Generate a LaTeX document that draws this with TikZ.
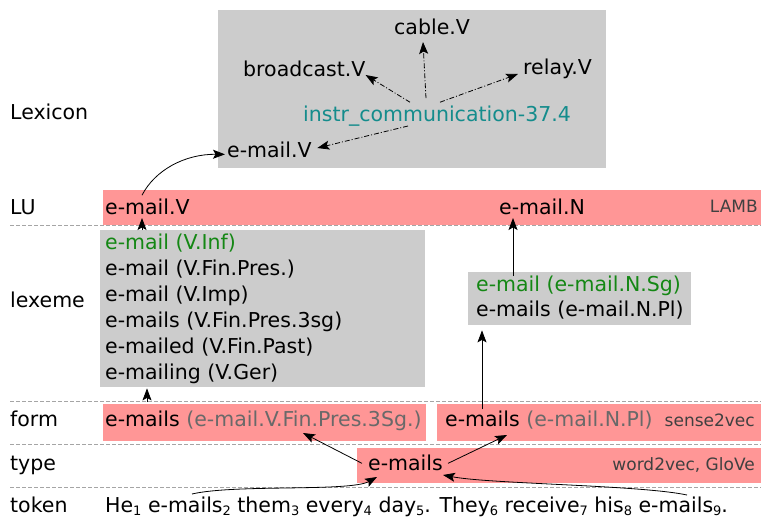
\documentclass[tikz,border=0pt]{standalone}
\usepackage{fontspec}
\setmainfont{DejaVu Sans}
\usetikzlibrary{arrows.meta}
\definecolor{pinkband}{RGB}{255,150,150}
\definecolor{graybox}{RGB}{204,204,204}
\definecolor{tealtxt}{RGB}{20,140,140}
\definecolor{greentxt}{RGB}{20,135,20}
\definecolor{graytxt}{RGB}{105,105,105}
\definecolor{smalltxt}{RGB}{64,64,64}
\definecolor{sepline}{RGB}{165,165,165}
\newcommand\tsub[1]{\raisebox{-3pt}{\fontsize{13}{13}\selectfont #1}}
\begin{document}
\begin{tikzpicture}[x=1pt,y=-1pt,
  txt/.style={inner sep=0pt, anchor=base west, font=\fontsize{20.5}{26}\selectfont},
  smalltag/.style={inner sep=0pt, anchor=base east, text=smalltxt, font=\fontsize{17}{20}\selectfont},
  box/.style={inner sep=0pt, anchor=north west, draw=none},
  arr/.style={-{Stealth[length=12pt,width=9pt,inset=2.5pt]}, line width=0.8pt},
  ddarr/.style={arr, dash pattern=on 5pt off 2pt on 1pt off 2pt},
  sepl/.style={sepline, line width=0.8pt, dash pattern=on 4pt off 2pt}]
\useasboundingbox (0,0) rectangle (761,518);
% boxes and bands
\node[box, fill=graybox, minimum width=388pt, minimum height=158pt] (lexbox) at (218,10) {};
\node[box, fill=pinkband, minimum width=658pt, minimum height=35pt] (luband) at (103,190) {};
\node[box, fill=graybox, minimum width=325pt, minimum height=157pt] (lboxL) at (100,230) {};
\node[box, fill=graybox, minimum width=223pt, minimum height=53pt] (lboxR) at (468,272) {};
\node[box, fill=pinkband, minimum width=323pt, minimum height=37pt] (fbandL) at (103,404) {};
\node[box, fill=pinkband, minimum width=324pt, minimum height=37pt] (fbandR) at (437,404) {};
\node[box, fill=pinkband, minimum width=404pt, minimum height=35pt] (tband) at (357,448) {};
% separators
\draw[sepl] (10,225) -- (761,225);
\draw[sepl] (10,401) -- (761,401);
\draw[sepl] (10,444) -- (761,444);
\draw[sepl] (10,487) -- (761,487);
% level labels
\node[txt] (lLex) at (10,120) {Lexicon};
\node[txt] (lLU) at (10,215) {LU};
\node[txt] (lLexeme) at (10,308) {lexeme};
\node[txt] (lForm) at (10,427) {form};
\node[txt] (lType) at (10,471) {type};
\node[txt] (lTok) at (10,513) {token};
% lexicon
\node[txt] (cab) at (394,35) {cable.V};
\node[txt] (bc) at (243,77) {broadcast.V};
\node[txt] (rel) at (523,75) {relay.V};
\node[txt, text=tealtxt] (instr) at (303,122) {instr\_communication-37.4};
\node[txt] (lexV) at (227,158) {e-mail.V};
% LU
\node[txt] (luV) at (105,215) {e-mail.V};
\node[txt] (luN) at (499,215) {e-mail.N};
\node[smalltag] (lamb) at (758,213) {LAMB};
% lexemes
\node[txt, text=greentxt] (lx1) at (105,250) {e-mail (V.Inf)};
\node[txt] (lx2) at (105,276) {e-mail (V.Fin.Pres.)};
\node[txt] (lx3) at (105,302) {e-mail (V.Imp)};
\node[txt] (lx4) at (105,328) {e-mails (V.Fin.Pres.3sg)};
\node[txt] (lx5) at (105,354) {e-mailed (V.Fin.Past)};
\node[txt] (lx6) at (105,380) {e-mailing (V.Ger)};
\node[txt, text=greentxt] (rx1) at (476,292) {e-mail (e-mail.N.Sg)};
\node[txt] (rx2) at (476,317) {e-mails (e-mail.N.Pl)};
% forms
\node[txt] (fL) at (105,427) {e-mails \textcolor{graytxt}{(e-mail.V.Fin.Pres.3Sg.)}};
\node[txt] (fR) at (445,427) {e-mails \textcolor{graytxt}{(e-mail.N.Pl)}};
\node[smalltag] (s2v) at (755,427) {sense2vec};
% type
\node[txt] (tE) at (368,471) {e-mails};
\node[smalltag] (w2v) at (755,471) {word2vec, GloVe};
% token
\node[txt] (tok) at (105,513) {He\tsub{1} e-mails\tsub{2} them\tsub{3} every\tsub{4} day\tsub{5}. They\tsub{6} receive\tsub{7} his\tsub{8} e-mails\tsub{9}.};
% lexicon arrows
\draw[ddarr] ([shift={(123,-8)}]instr.north west) -- ([shift={(29,7)}]cab.base west);
\draw[ddarr] ([shift={(107,-4)}]instr.north west) -- ([shift={(0,-2)}]bc.base east);
\draw[ddarr] ([shift={(137,-4)}]instr.north west) -- ([shift={(-5,-1)}]rel.base west);
\draw[ddarr] ([shift={(105,4)}]instr.base west) -- ([shift={(5.5,-10)}]lexV.base east);
% LU to lexicon
\draw[arr] ([shift={(37,-4)}]luV.north west) .. controls (155,170) and (185,154) .. ([shift={(-2,4)}]lexV.west);
% lexeme to LU
\draw[arr] ([shift={(37,-4)}]lx1.north west) -- ([shift={(37,3)}]luV.base west);
\draw[arr] ([shift={(37,0)}]rx1.north west) -- ([shift={(14,3)}]luN.base west);
% form to lexeme
\draw[arr] ([shift={(42,-9)}]fL.north west) -- ([shift={(47,1)}]lboxL.south west);
\draw[arr] ([shift={(37,-2)}]fR.north west) -- ([shift={(14,5)}]lboxR.south west);
% type to form
\draw[arr] ([shift={(-6,0)}]tE.west) -- ([shift={(198,6)}]fL.base west);
\draw[arr] ([shift={(5,0)}]tE.east) -- ([shift={(62,8)}]fR.base west);
% token to type
\draw[arr] ([shift={(87,-19)}]tok.base west) .. controls (235,484) and (350,492) .. ([shift={(9,6)}]tE.base west);
\draw[arr] ([shift={(582,-18)}]tok.base west) .. controls (640,485) and (490,484) .. ([shift={(0,4)}]tE.base east);
\end{tikzpicture}
\end{document}
